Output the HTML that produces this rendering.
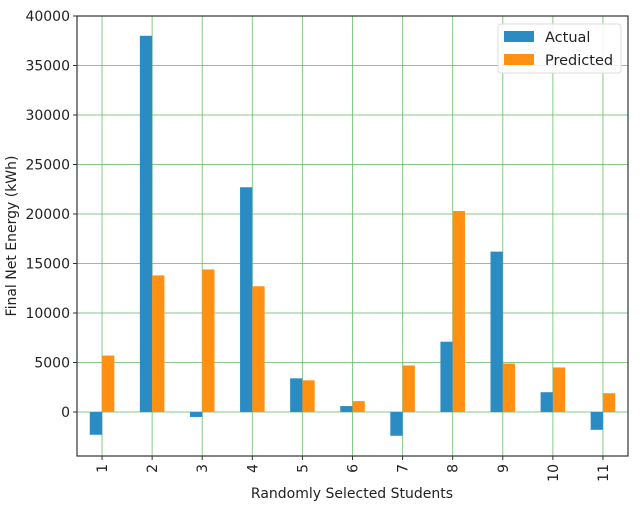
<!DOCTYPE html>
<html><head><meta charset="utf-8"><style>
body{margin:0;background:#fff}
svg text{font-family:"DejaVu Sans","Liberation Sans",sans-serif;fill:#222}
</style></head><body>
<svg id="chart" width="640" height="506" xmlns="http://www.w3.org/2000/svg">
<g id="grid"></g>
<g id="bars"></g>
<g id="axes"></g>
<text x="352" y="498" text-anchor="middle" font-size="14">Randomly Selected Students</text>
<text transform="translate(16,236) rotate(-90)" text-anchor="middle" font-size="14">Final Net Energy (kWh)</text>
<g>
<rect x="498" y="24" width="123" height="49" rx="3" fill="#fff" fill-opacity="0.85" stroke="#ddd"/>
<rect x="504" y="31" width="30" height="11" fill="#2b8cc4"/>
<text x="545" y="42" font-size="14.5">Actual</text>
<rect x="504" y="54" width="30" height="11" fill="#ff9011"/>
<text x="545" y="65" font-size="14.5">Predicted</text>
</g>
</svg>
<script>
const categories=["1","2","3","4","5","6","7","8","9","10","11"];
const actual=[-2300,38000,-500,22700,3400,600,-2400,7100,16200,2000,-1800];
const predicted=[5700,13800,14400,12700,3200,1100,4700,20300,4900,4500,1900];
const yTicks=[0,5000,10000,15000,20000,25000,30000,35000,40000];
const L=77,R=628,T=16,B=456,yMin=-4444,yMax=40000;
const ns="http://www.w3.org/2000/svg";
const step=(R-L)/categories.length;
const x=i=>L+step*(i+0.5);
const y=v=>B-(v-yMin)/(yMax-yMin)*(B-T);
function mk(tag,at,parent){const e=document.createElementNS(ns,tag);for(const k in at)e.setAttribute(k,at[k]);document.getElementById(parent).appendChild(e);return e;}
yTicks.forEach(t=>{
 const g=mk('line',{x1:L,x2:R,y1:y(t),y2:y(t),stroke:'#5fb85f','stroke-opacity':0.75,'stroke-width':1},'grid');
 
 
 const tk=mk('line',{x1:L-4,x2:L,y1:y(t),y2:y(t),stroke:'#333'},'axes');
 
 
 const tx=mk('text',{x:L-7,y:y(t)+5,'text-anchor':'end','font-size':14},'axes');
 
 
 tx.textContent=t;
});
const bw=step*0.245;
categories.forEach((c,i)=>{
 const g=mk('line',{x1:x(i),x2:x(i),y1:T,y2:B,stroke:'#5fb85f','stroke-opacity':0.75},'grid');
 
 
 const a=actual[i],p=predicted[i];
 const ba=mk('rect',{x:x(i)-bw,width:bw,y:Math.min(y(a),y(0)),height:Math.abs(y(a)-y(0)),fill:'#2b8cc4'},'bars');
 
 
 const bp=mk('rect',{x:x(i),width:bw,y:Math.min(y(p),y(0)),height:Math.abs(y(p)-y(0)),fill:'#ff9011'},'bars');
 
 
 const tk=mk('line',{x1:x(i),x2:x(i),y1:B,y2:B+4,stroke:'#333'},'axes');
 
 
 const tx=mk('text',{transform:`translate(${x(i)+5},${B+8}) rotate(-90)`,'text-anchor':'end','font-size':14},'axes');
 
 
 tx.textContent=c;
});
const fr=mk('rect',{x:L,y:T,width:R-L,height:B-T,fill:'none',stroke:'#333','stroke-width':1.2},'axes');


</script>
</body></html>
